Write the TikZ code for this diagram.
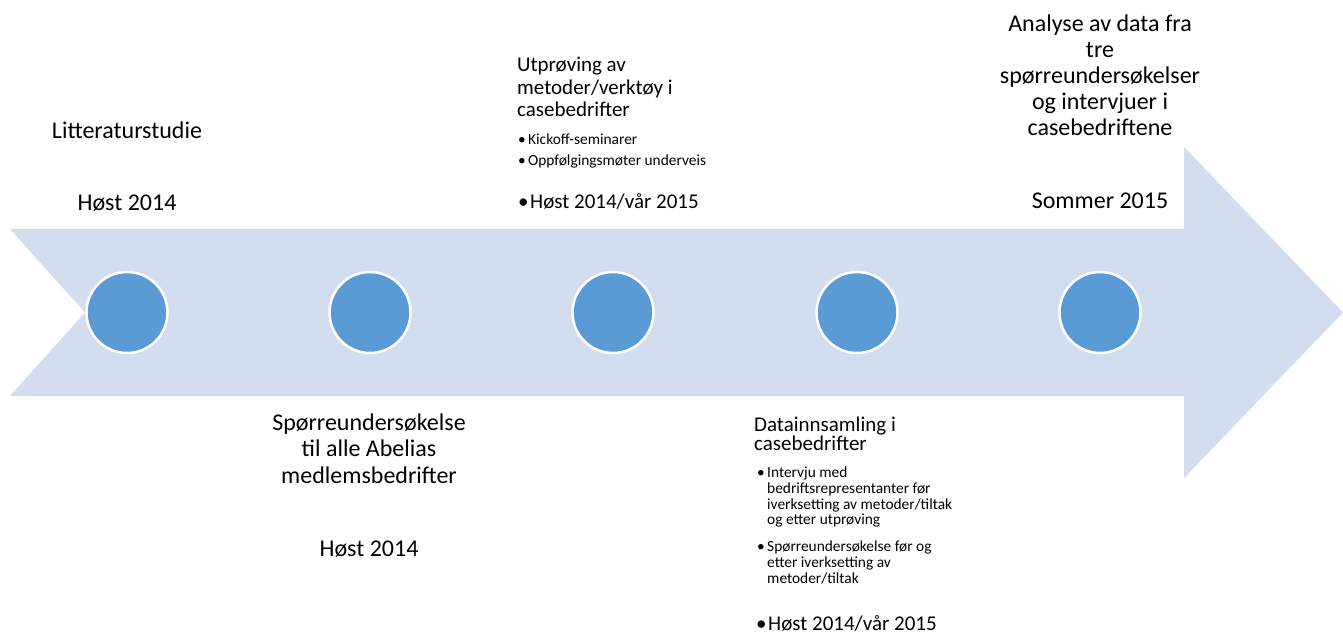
\documentclass[tikz,border=0pt]{standalone}
\usepackage{fontspec}
\setmainfont{Carlito}
\definecolor{bandblue}{HTML}{D2DEEF}
\definecolor{dotblue}{HTML}{5B9BD5}
\newcommand{\bl}[1][10pt]{\makebox[#1][l]{•}}
\newcommand{\ind}{\hspace*{10pt}}
\tikzset{
  band/.style={fill=bandblue, draw=none},
  dot/.style={circle, fill=dotblue, draw=white, line width=2.5pt, minimum size=81pt, inner sep=0pt},
  lbl/.style={font=\fontsize{24}{26}\selectfont, align=center, inner sep=0pt, anchor=base},
  ttl/.style={font=\fontsize{21}{22.5}\selectfont, align=left, inner sep=0pt, anchor=base west},
  small/.style={font=\fontsize{15.4}{21}\selectfont, align=left, inner sep=0pt, anchor=base west},
}
\begin{document}
\begin{tikzpicture}[x=1pt,y=-1pt]
\useasboundingbox (0,0) rectangle (1343,636);
% arrow band
\fill[band] (10,229) -- (1184,229) -- (1184,147) -- (1343,312.5) -- (1184,478)
  -- (1184,396) -- (10,396) -- (85,312.5) -- cycle;
% dots
\node[dot] (d1) at (127,312.5) {};
\node[dot] (d2) at (370,312.5) {};
\node[dot] (d3) at (613,312.5) {};
\node[dot] (d4) at (857,312.5) {};
\node[dot] (d5) at (1100,312.5) {};
% block 1
\node[lbl] (t1) at (127,138.5) {Litteraturstudie};
\node[lbl] (y1) at (127,211) {Høst 2014};
% block 2 (base anchor = last line)
\node[lbl, font=\fontsize{24}{26.5}\selectfont] (t2) at (369,483) {Spørreundersøkelse\\til alle Abelias\\medlemsbedrifter};
\node[lbl] (y2) at (369,556) {Høst 2014};
% block 3
\node[ttl] (t3) at (517,117) {Utprøving av\\metoder/verktøy i\\casebedrifter};
\node[small] (b3) at (518,166) {\bl Kickoff-seminarer\\\bl Oppfølgingsmøter underveis};
\node[ttl] (y3) at (518,209) {\bl[12pt]Høst 2014/vår 2015};
% block 4
\node[ttl, font=\fontsize{21}{19}\selectfont] (t4) at (754,450) {Datainnsamling i\\casebedrifter};
\node[small, font=\fontsize{15.4}{15.6}\selectfont] (b4) at (757,583) {\bl Intervju med\\\ind bedriftsrepresentanter før\\\ind iverksetting av metoder/tiltak\\\ind og etter utprøving\\[11.5pt]\bl Spørreundersøkelse før og\\\ind etter iverksetting av\\\ind metoder/tiltak};
\node[ttl] (y4) at (756,630) {\bl[12pt]Høst 2014/vår 2015};
% block 5
\node[lbl] (t5) at (1100,136) {Analyse av data fra\\tre\\spørreundersøkelser\\og intervjuer i\\casebedriftene};
\node[lbl] (y5) at (1100,209) {Sommer 2015};
\end{tikzpicture}
\end{document}
